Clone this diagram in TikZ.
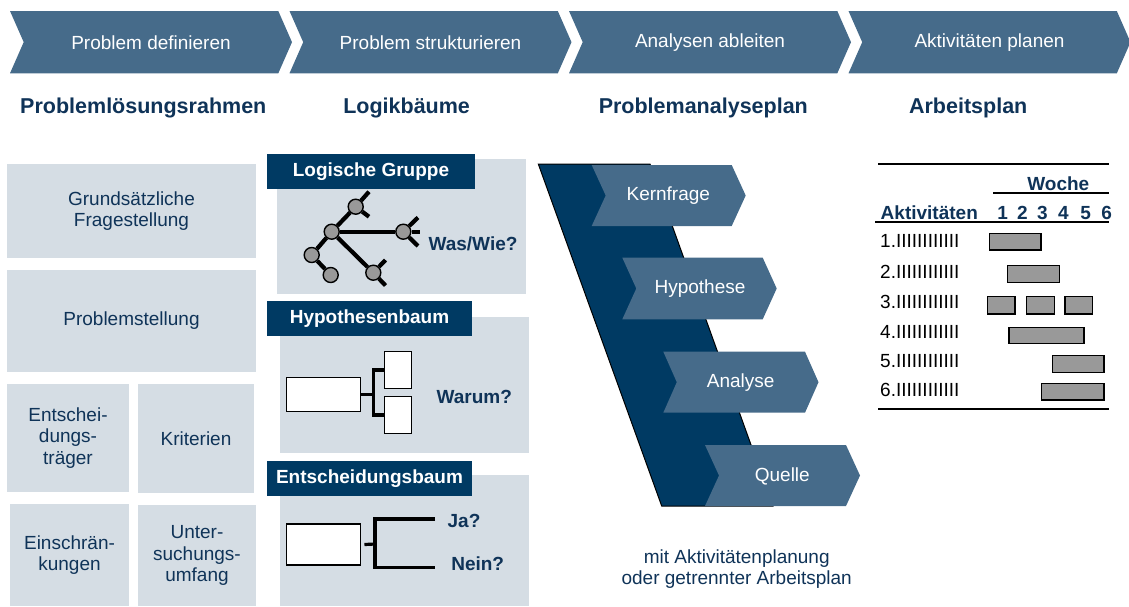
\documentclass[tikz,border=0pt]{standalone}
\usepackage{fontspec}
\setmainfont{Liberation Sans}
\usetikzlibrary{calc}
\definecolor{chevblue}{HTML}{466B8A}
\definecolor{navy}{HTML}{003A63}
\definecolor{lightbox}{HTML}{D5DDE4}
\definecolor{txtnavy}{HTML}{0F3358}
\definecolor{nodegray}{HTML}{999999}
\newcommand{\chevr}[5]{% x, ytop, body width, height, depth
  \fill[chevblue] (#1,#2) -- ({#1+#3},#2) -- ({#1+#3+#5},{#2+#4/2}) -- ({#1+#3},{#2+#4}) -- (#1,{#2+#4}) -- ({#1+#5},{#2+#4/2}) -- cycle;}
\begin{document}
\begin{tikzpicture}[x=1pt,y=-1pt,
  chevtext/.style={text=white, font=\fontsize{19}{21}\selectfont, inner sep=0},
  heading/.style={text=txtnavy, font=\bfseries\fontsize{21.5}{24}\selectfont, inner sep=0},
  lbox/.style={fill=lightbox, inner sep=0, outer sep=0, anchor=north west},
  boxtext/.style={text=txtnavy, font=\fontsize{19}{21.5}\selectfont, align=center},
  titlebox/.style={fill=navy, text=white, font=\bfseries\fontsize{19}{21}\selectfont, inner sep=0, outer sep=0, anchor=north west},
  qtext/.style={text=txtnavy, font=\bfseries\fontsize{19}{21}\selectfont, inner sep=0},
  wbox/.style={draw=black, fill=white, line width=1.5pt, inner sep=0},
  tree/.style={draw=black, line width=3.2pt},
  ltree/.style={draw=black, line width=4.2pt},
  gnode/.style={circle, fill=nodegray, draw=black, line width=1.4pt, minimum size=15pt, inner sep=0},
  aline/.style={draw=black, line width=1.8pt},
  gbar/.style={fill=nodegray, draw=black, line width=1.5pt},
  rowtext/.style={text=black, font=\fontsize{19}{21}\selectfont, inner sep=0, anchor=west},
  plantext/.style={text=txtnavy, font=\bfseries\fontsize{19}{21}\selectfont, inner sep=0}
]
\useasboundingbox (0,0) rectangle (1129,606);

% ---- top chevrons
\chevr{10}{11}{268.3}{62.3}{13.7}
\chevr{289.5}{11}{268.3}{62.3}{13.7}
\chevr{569}{11}{268.3}{62.3}{13.7}
\chevr{848.5}{11}{268.3}{62.3}{13.7}
\node[chevtext] (c1) at (151,43) {Problem definieren};
\node[chevtext] (c2) at (430.5,43) {Problem strukturieren};
\node[chevtext] (c3) at (710,43) {Analysen ableiten};
\node[chevtext] (c4) at (989.5,43) {Aktivitäten planen};

% ---- headings
\node[heading] (h1) at (143.3,108.3) {Problemlösungsrahmen};
\node[heading] (h2) at (406.6,108.3) {Logikbäume};
\node[heading] (h3) at (703.3,108.3) {Problemanalyseplan};
\node[heading] (h4) at (968.2,108.3) {Arbeitsplan};

% ---- left column
\node[lbox, minimum width=249pt, minimum height=94pt] (b1) at (7,164) {};
\node[boxtext] at (b1.center) {Grundsätzliche\\Fragestellung};
\node[lbox, minimum width=249pt, minimum height=102pt] (b2) at (7,270) {};
\node[boxtext] at (b2.center) {Problemstellung};
\node[lbox, minimum width=122pt, minimum height=108pt] (b3) at (7,384) {};
\node[boxtext] at (b3.center) {Entschei-\\dungs-\\träger};
\node[lbox, minimum width=116pt, minimum height=109pt] (b4) at (138,384) {};
\node[boxtext] at (b4.center) {Kriterien};
\node[lbox, minimum width=119pt, minimum height=102pt] (b5) at (10,504) {};
\node[boxtext] at (b5.center) {Einschrän-\\kungen};
\node[lbox, minimum width=118pt, minimum height=101pt] (b6) at (138,505) {};
\node[boxtext] at (b6.center) {Unter-\\suchungs-\\umfang};

% ---- middle column boxes
\node[lbox, minimum width=249pt, minimum height=135pt] (la) at (277,159) {};
\node[titlebox, minimum width=208pt, minimum height=35pt] (ta) at (267,154) {Logische Gruppe};
\node[lbox, minimum width=249pt, minimum height=136pt] (lb) at (280,317) {};
\node[titlebox, minimum width=205pt, minimum height=35pt] (tb) at (267,301) {Hypothesenbaum};
\node[lbox, minimum width=249pt, minimum height=131pt] (lc2) at (280,475) {};
\node[titlebox, minimum width=205pt, minimum height=35pt] (tc) at (267,461) {Entscheidungsbaum};

% ---- logic tree
\node[gnode] (lc) at (331.7,231.7) {};
\node[gnode] (lu) at (355.7,206.7) {};
\node[gnode] (lr) at (403.3,231.7) {};
\node[gnode] (ll) at (311.7,255) {};
\node[gnode] (lll) at (330.7,275) {};
\node[gnode] (ld) at (373.3,272.7) {};
\coordinate (su1) at (369,191.7);
\coordinate (su2) at (369,216.7);
\coordinate (sr1) at (418,217.5);
\coordinate (sr2) at (418,246);
\coordinate (sr3) at (420,231.7);
\coordinate (sd1) at (385.5,260);
\coordinate (sd2) at (385.5,285.5);
\draw[ltree] (lc) -- (lu);
\draw[ltree] (lc) -- (lr);
\draw[ltree] (lc) -- (ll);
\draw[ltree] (ll) -- (lll);
\draw[ltree] (lc) -- (ld);
\draw[ltree] (lu) -- (su1);
\draw[ltree] (lu) -- (su2);
\draw[ltree] (lr) -- (sr1);
\draw[ltree] (lr) -- (sr2);
\draw[ltree] (lr) -- (sr3);
\draw[ltree] (ld) -- (sd1);
\draw[ltree] (ld) -- (sd2);
\node[qtext] (qa) at (473,244) {Was/Wie?};

% ---- hypothesis tree
\node[wbox, minimum width=74pt, minimum height=34.4pt] (hb) at (323.7,394.5) {};
\node[wbox, minimum width=27.4pt, minimum height=36.6pt] (hs1) at (398,370) {};
\node[wbox, minimum width=27.4pt, minimum height=36.6pt] (hs2) at (398,415) {};
\coordinate (hj) at (373.3,394.5);
\draw[tree] (hb.east) -- (hj);
\draw[tree] (hs1.west) -| (hj) |- (hs2.west);
\node[qtext] (qb) at (474.3,397.3) {Warum?};

% ---- decision tree
\node[wbox, minimum width=74pt, minimum height=41pt] (db) at (323.7,544.5) {};
\coordinate (dj) at (375,544);
\coordinate (dja) at (435,519);
\coordinate (djn) at (435,567.3);
\draw[tree] ([xshift=3pt]db.east) -- (dj);
\draw[tree] (dja) -| (dj) |- (djn);
\node[qtext] (qja) at (464,520.7) {Ja?};
\node[qtext] (qnein) at (477.7,563.3) {Nein?};

% ---- problem analysis plan
\filldraw[fill=navy, draw=black, line width=1pt] (538.3,164) -- (650,164) -- (773,506) -- (661.7,506) -- cycle;
\chevr{591.7}{165}{140}{61}{14}
\chevr{622.3}{257.7}{140.4}{61.6}{14}
\chevr{663.3}{351.7}{141.7}{61}{13.5}
\chevr{705}{445}{141}{61}{14}
\node[chevtext] (k1) at (668.3,196) {Kernfrage};
\node[chevtext] (k2) at (700,289) {Hypothese};
\node[chevtext] (k3) at (740.7,382.5) {Analyse};
\node[chevtext] (k4) at (782.3,476) {Quelle};
\node[boxtext, inner sep=0] (note) at (736.7,569) {mit Aktivitätenplanung\\oder getrennter Arbeitsplan};

% ---- work plan
\draw[aline] (878.3,164) -- (1109.3,164);
\node[plantext] (woche) at (1058.3,183.3) {Woche};
\draw[aline] (993.3,192.7) -- (1109.3,192.7);
\node[plantext] (akt) at (929.3,212.7) {Aktivitäten};
\node[plantext] (w1) at (1002.7,212.7) {1};
\node[plantext] (w2) at (1022.3,212.7) {2};
\node[plantext] (w3) at (1042.3,212.7) {3};
\node[plantext] (w4) at (1063.3,212.7) {4};
\node[plantext] (w5) at (1085.7,212.7) {5};
\node[plantext] (w6) at (1106.7,212.7) {6};
\draw[aline] (875,221.7) -- (1109.3,221.7);
\node[rowtext] (r1) at (880,241) {1.IIIIIIIIIIII};
\node[rowtext] (r2) at (880,271.5) {2.IIIIIIIIIIII};
\node[rowtext] (r3) at (880,301.5) {3.IIIIIIIIIIII};
\node[rowtext] (r4) at (880,331.5) {4.IIIIIIIIIIII};
\node[rowtext] (r5) at (880,361.5) {5.IIIIIIIIIIII};
\node[rowtext] (r6) at (880,389.5) {6.IIIIIIIIIIII};
\draw[gbar] (989.3,233.3) rectangle (1041,250);
\draw[gbar] (1007.7,265.7) rectangle (1059.3,282.3);
\draw[gbar] (987.7,296.7) rectangle (1015,314);
\draw[gbar] (1026.7,296.7) rectangle (1054.3,314);
\draw[gbar] (1065,296.7) rectangle (1092.3,314);
\draw[gbar] (1009,327.3) rectangle (1084,343.3);
\draw[gbar] (1052.3,355.7) rectangle (1104,372.3);
\draw[gbar] (1041.7,383.3) rectangle (1104,400);
\draw[aline] (878.3,409.3) -- (1109.3,409.3);
\end{tikzpicture}
\end{document}
